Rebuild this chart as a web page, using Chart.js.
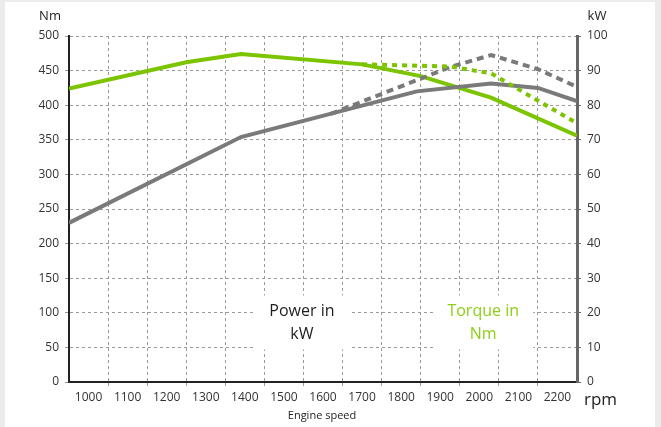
<!DOCTYPE html>
<html>
<head>
<meta charset="utf-8">
<script src="https://cdn.jsdelivr.net/npm/chart.js@4.4.1/dist/chart.umd.min.js"></script>
<style>
  html, body { margin: 0; padding: 0; background: #ebeded; }
  #wrap { width: 661px; height: 427px; }
</style>
</head>
<body>
<div id="wrap"><canvas id="grafico" width="661" height="427"></canvas></div>
<script>
// ===============================
//  DATI
// ===============================
const rpmLabels = [1000, 1100, 1200, 1300, 1400, 1500, 1600, 1700, 1800, 1900, 2000, 2100, 2200];

// coppia (Nm) - linea continua
const torqueRpm = [950, 1250, 1390, 1700, 1850, 2030, 2250];
const torqueNm  = [424, 462, 474, 459, 442, 411, 356];

// coppia (Nm) - tratteggiata
const torqueMaxRpm = [1700, 1925, 2030, 2250];
const torqueMaxNm  = [459, 456, 446, 374];

// potenza (kW) - linea continua
const powerRpm = [950, 1390, 1840, 2030, 2150, 2250];
const powerKw  = [46, 70.8, 84, 86.3, 85, 81.2];

// potenza (kW) - tratteggiata
const powerMaxRpm = [1620, 1925, 2030, 2150, 2250];
const powerMaxKw  = [77.5, 91, 94.5, 90.4, 85.3];

const GREEN = "#7cc400";
const GREY = "#7a7a7a";
const GRID = "#9a9a9a";
const FONT = "'Open Sans', 'Noto Sans', sans-serif";

const pts = (xs, ys) => xs.map((x, i) => ({ x, y: ys[i] }));

// ===============================
//  PLUGIN: sfondo + testi
// ===============================
const decor = {
  id: "decor",
  beforeDraw(chart) {
    const c = chart.ctx;
    c.save();
    c.fillStyle = "#ebeded";
    c.fillRect(0, 0, chart.width, chart.height);
    c.fillStyle = "#ffffff";
    c.fillRect(5, 2, 650, chart.height - 2);
    c.restore();
  },
  beforeDatasetsDraw(chart) {
    const c = chart.ctx;
    const xs = chart.scales.x;
    const ys = chart.scales.y;
    const area = chart.chartArea;

    c.save();
    // box bianchi con testo
    const boxes = [
      { rpm: 1546, nm: 86, lines: ["Power in", "kW"], color: "#1e1e1e", w: 98 },
      { rpm: 2010, nm: 86, lines: ["Torque in", "Nm"], color: "#8ccf14", w: 100 }
    ];
    boxes.forEach(b => {
      const cx = xs.getPixelForValue(b.rpm);
      const cy = ys.getPixelForValue(b.nm);
      c.fillStyle = "#fff";
      c.fillRect(cx - b.w / 2, cy - 27, b.w, 54);
      c.fillStyle = b.color;
      c.font = "16px " + FONT;
      c.textAlign = "center";
      c.textBaseline = "middle";
      c.fillText(b.lines[0], cx, cy - 11);
      c.fillText(b.lines[1], cx, cy + 12);
    });

    // titoli assi
    c.fillStyle = "#222";
    c.font = "13px " + FONT;
    c.textAlign = "center";
    c.textBaseline = "middle";
    c.fillText("Nm", area.left - 19, 16);
    c.fillText("kW", area.right + 20, 16);

    c.font = "17px " + FONT;
    c.textAlign = "left";
    c.fillText("rpm", area.right + 7, 400);

    c.font = "11px " + FONT;
    c.textAlign = "center";
    c.fillText("Engine speed", 322, 416);
    c.restore();
  }
};

// ===============================
//  GRAFICO
// ===============================
const ctx = document.getElementById("grafico").getContext("2d");

new Chart(ctx, {
  type: "line",
  data: {
    datasets: [
      {
        label: "Torque max",
        data: pts(torqueMaxRpm, torqueMaxNm),
        yAxisID: "y",
        borderColor: GREEN,
        borderWidth: 4,
        borderDash: [5, 5],
        pointRadius: 0,
        tension: 0
      },
      {
        label: "Power max",
        data: pts(powerMaxRpm, powerMaxKw),
        yAxisID: "y1",
        borderColor: GREY,
        borderWidth: 4,
        borderDash: [7, 5],
        pointRadius: 0,
        tension: 0
      },
      {
        label: "Power",
        data: pts(powerRpm, powerKw),
        yAxisID: "y1",
        borderColor: GREY,
        borderWidth: 4,
        pointRadius: 0,
        tension: 0
      },
      {
        label: "Torque",
        data: pts(torqueRpm, torqueNm),
        yAxisID: "y",
        borderColor: GREEN,
        borderWidth: 4,
        pointRadius: 0,
        tension: 0
      }
    ]
  },
  options: {
    responsive: false,
    animation: false,
    layout: { padding: { top: 36, left: 0, right: 0, bottom: 0 } },
    plugins: {
      legend: { display: false },
      tooltip: { enabled: false }
    },
    scales: {
      x: {
        type: "linear",
        min: 950,
        max: 2250,
        afterBuildTicks: s => {
          const t = [];
          rpmLabels.forEach((v, i) => {
            t.push({ value: v });
            if (i < rpmLabels.length - 1) t.push({ value: (v + rpmLabels[i + 1]) / 2 });
          });
          s.ticks = t;
        },
        afterFit: s => { s.height = 45; },
        ticks: {
          autoSkip: false,
          maxRotation: 0,
          color: "#333",
          font: { family: FONT, size: 12 },
          padding: 4,
          callback: v => (rpmLabels.includes(v) ? String(v) : "")
        },
        grid: {
          color: c => (c.tick && rpmLabels.includes(c.tick.value) ? "rgba(0,0,0,0)" : GRID),
          tickLength: 4,
          lineWidth: 1
        },
        border: { display: true, color: "#222", width: 2, dash: [3, 3] }
      },
      y: {
        position: "left",
        min: 0,
        max: 500,
        afterFit: s => { s.width = 69; },
        ticks: {
          stepSize: 50,
          color: "#333",
          font: { family: FONT, size: 12 },
          padding: 6
        },
        grid: { color: GRID, tickLength: 4, lineWidth: 1 },
        border: { display: true, color: "#222", width: 2, dash: [3, 3] }
      },
      y1: {
        position: "right",
        min: 0,
        max: 100,
        afterFit: s => { s.width = 84; },
        ticks: {
          stepSize: 10,
          color: "#333",
          font: { family: FONT, size: 12 },
          padding: 6
        },
        grid: { drawOnChartArea: false, color: "#666", tickLength: 4 },
        border: { display: true, color: "#666", width: 3 }
      }
    }
  },
  plugins: [decor]
});
</script>
</body>
</html>
